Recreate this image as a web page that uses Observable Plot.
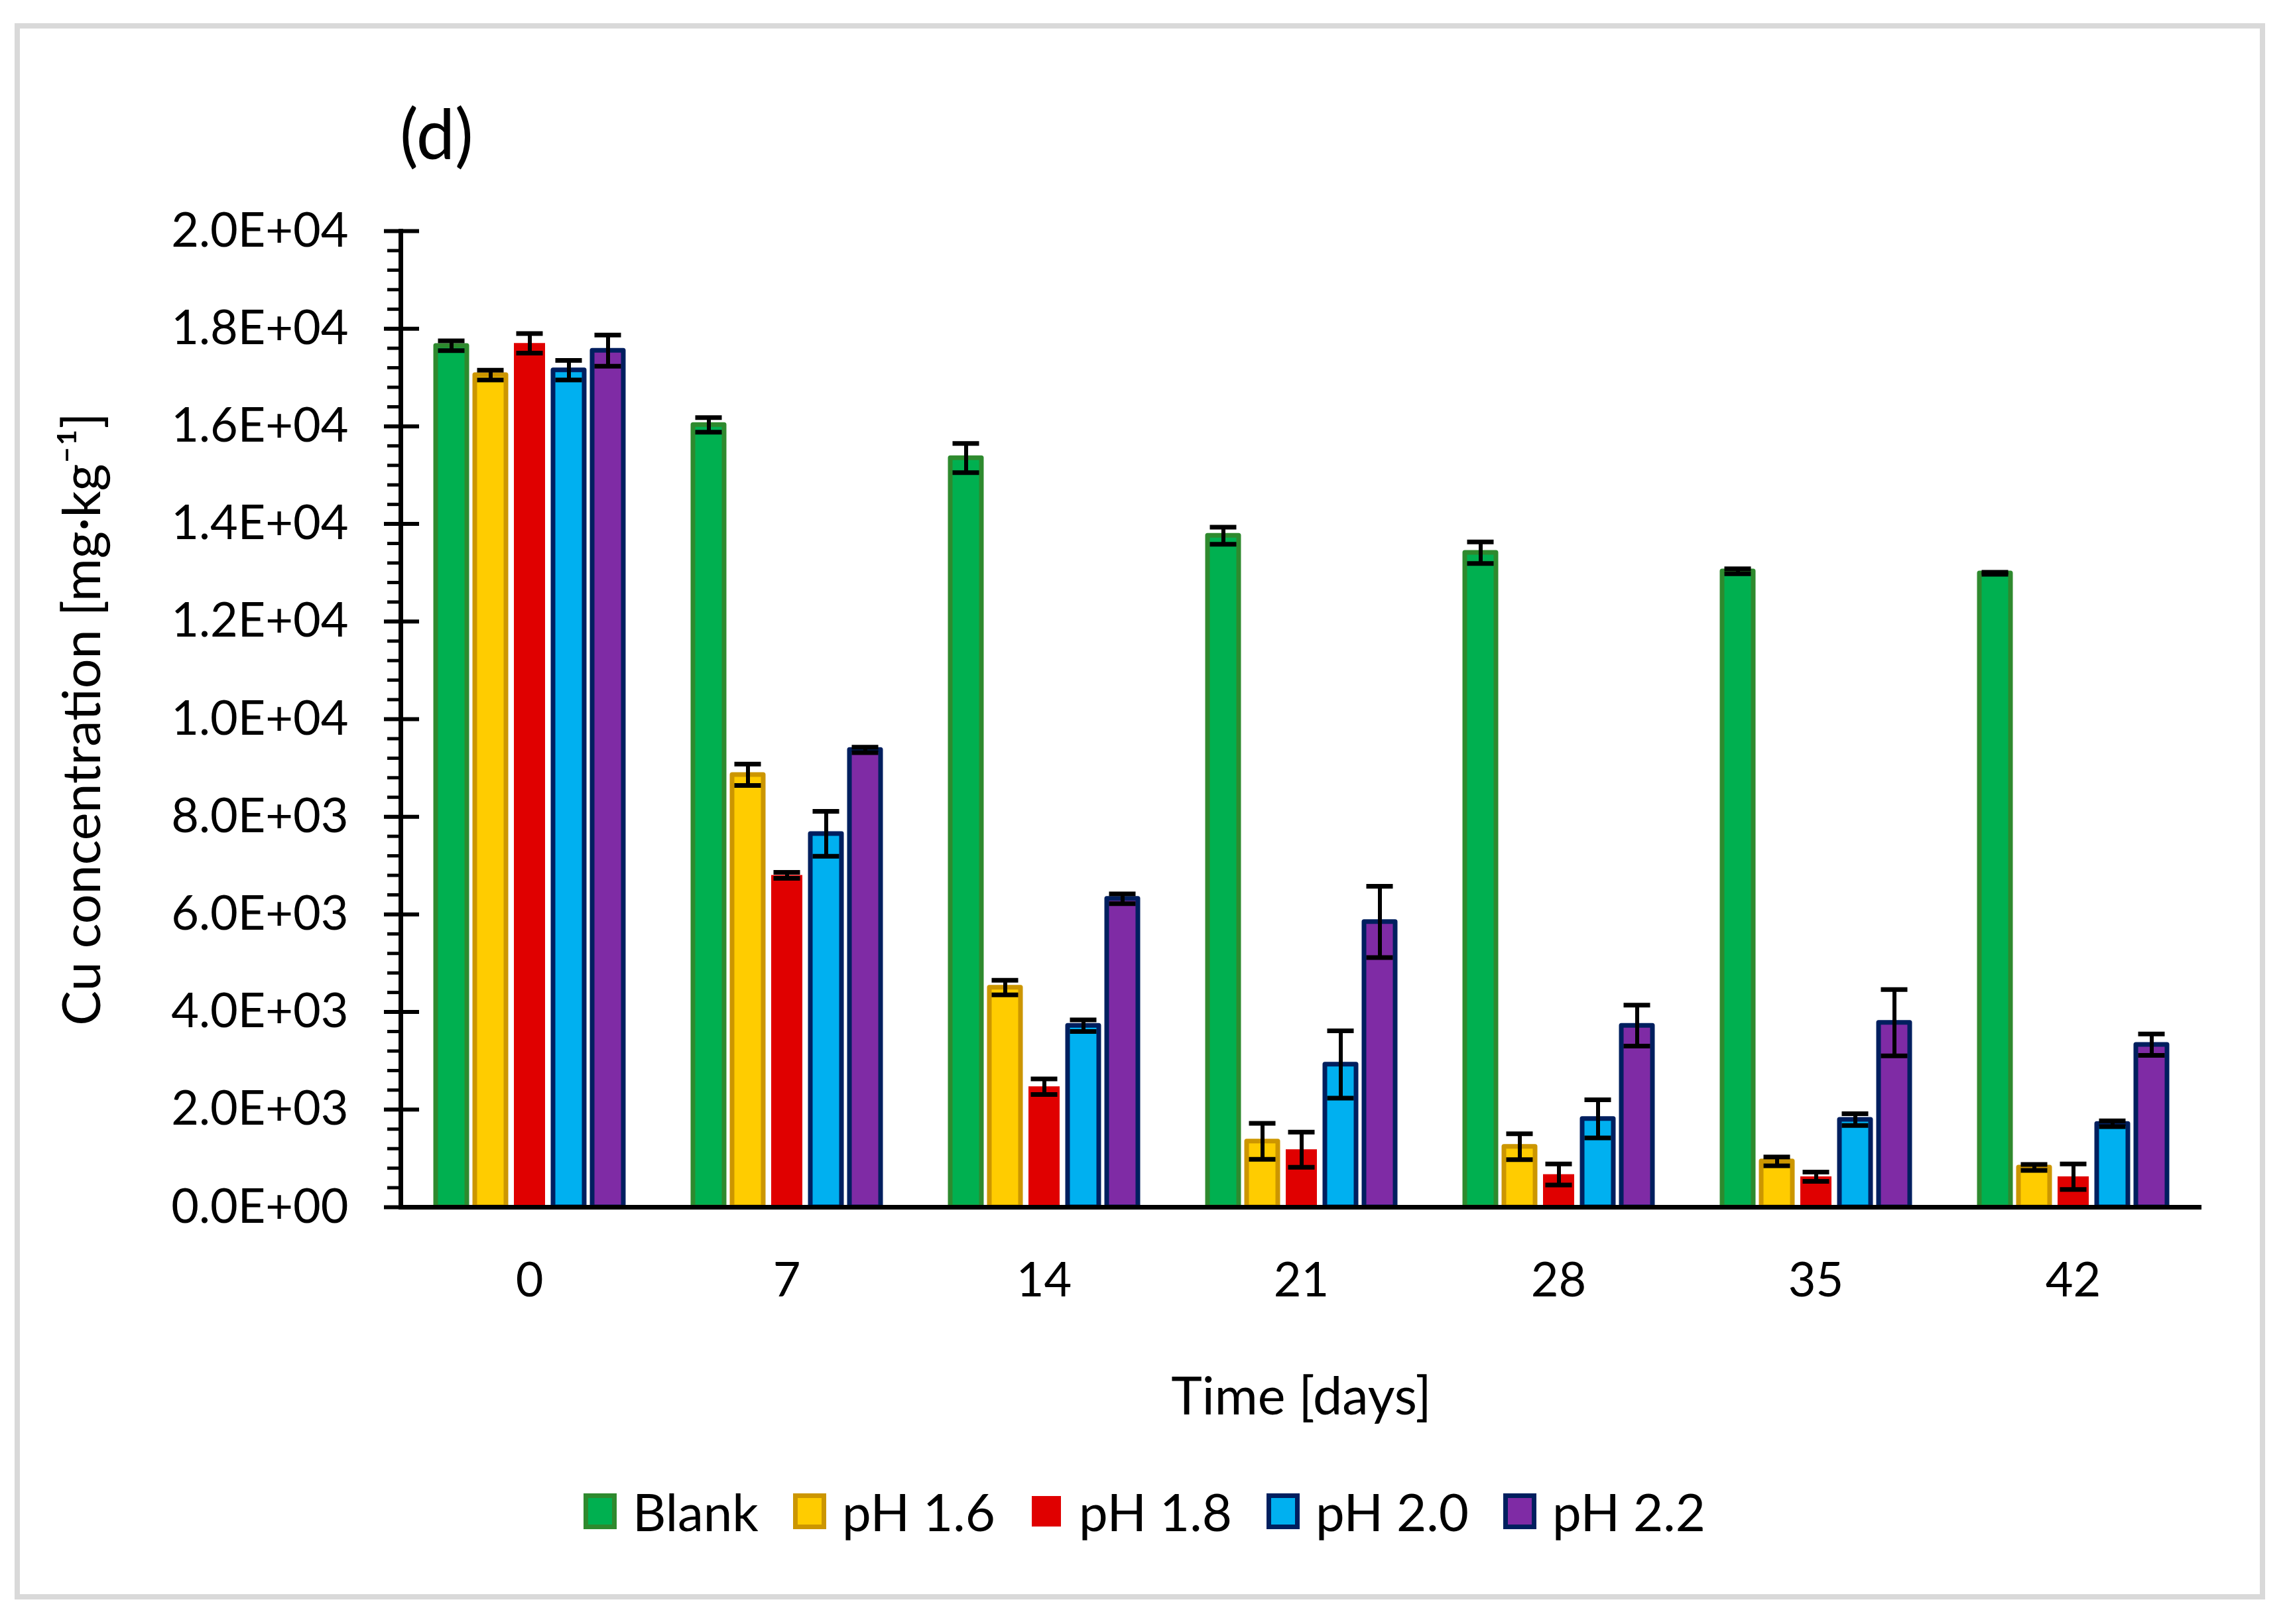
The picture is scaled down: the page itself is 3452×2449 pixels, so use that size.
<!DOCTYPE html>
<html>
<head>
<meta charset="utf-8">
<script src="https://cdn.jsdelivr.net/npm/d3@7"></script>
<script src="https://cdn.jsdelivr.net/npm/@observablehq/plot@0.6"></script>
<style>
html,body{margin:0;padding:0;background:#fff;}
#fig{position:relative;width:3452px;height:2449px;background:#fff;font-family:Lato,sans-serif;color:#000;overflow:hidden}
#border{position:absolute;left:22px;top:35px;width:3394px;height:2377px;border:8px solid #D9D9D9;box-sizing:border-box}
#chart{position:absolute;left:0;top:0}
#panel{position:absolute;left:603px;top:148px;font-size:104px;line-height:1}
#legend{position:absolute;left:0;top:2239px;width:3452px;height:80px;display:flex;justify-content:center;align-items:center;font-size:78px;line-height:1}
.item{display:flex;align-items:center;margin:0 26px}
.sw{box-sizing:border-box;width:50px;height:54px;border:7px solid;margin-right:24px}
</style>
</head>
<body>
<div id="fig">
  <div id="border"></div>
  <div id="chart"></div>
  <div id="panel">(d)</div>
  <div id="legend"></div>
</div>
<script>
// ---- data ----
const days = ["0", "7", "14", "21", "28", "35", "42"];
const series = ["Blank", "pH 1.6", "pH 1.8", "pH 2.0", "pH 2.2"];

const blank = [17650, 16030, 15350, 13760, 13410, 13030, 12990];
const ph16  = [17050, 8860, 4500, 1350, 1240, 940, 815];
const ph18  = [17700, 6800, 2470, 1180, 670, 625, 625];
const ph20  = [17150, 7650, 3720, 2925, 1810, 1795, 1710];
const ph22  = [17550, 9370, 6320, 5845, 3720, 3780, 3330];

const blankErr = [100, 150, 300, 175, 220, 50, 20];
const ph16Err  = [100, 220, 150, 370, 265, 90, 60];
const ph18Err  = [200, 60, 160, 360, 215, 95, 260];
const ph20Err  = [200, 460, 120, 690, 390, 120, 60];
const ph22Err  = [320, 55, 100, 730, 420, 680, 220];

const yTicks = [0, 2000, 4000, 6000, 8000, 10000, 12000, 14000, 16000, 18000, 20000];
const yTickLabels = ["0.0E+00", "2.0E+03", "4.0E+03", "6.0E+03", "8.0E+03", "1.0E+04",
                     "1.2E+04", "1.4E+04", "1.6E+04", "1.8E+04", "2.0E+04"];
const yMinorTicks = d3.range(0, 20001, 400);

const yLabel = "Cu concentration [mg·kg⁻¹]";
const xLabel = "Time [days]";

const fills   = {"Blank": "#00B050", "pH 1.6": "#FFCC00", "pH 1.8": "#E00000", "pH 2.0": "#00B0F0", "pH 2.2": "#7F2BA5"};
const strokes = {"Blank": "#2E8A2E", "pH 1.6": "#CC9600", "pH 1.8": null, "pH 2.0": "#001F5F", "pH 2.2": "#001F5F"};

// ---- table ----
const values = [blank, ph16, ph18, ph20, ph22];
const errors = [blankErr, ph16Err, ph18Err, ph20Err, ph22Err];
const rows = [];
days.forEach((day, i) => {
  series.forEach((s, j) => rows.push({day, series: s, value: values[j][i], err: errors[j][i]}));
});

const chart = Plot.plot({
  width: 3452,
  height: 2200,
  marginLeft: 603,
  marginRight: 131,
  marginTop: 348,
  marginBottom: 380,
  style: {fontFamily: "Lato, sans-serif", fontSize: "72px", color: "#000", background: "transparent", overflow: "visible"},
  fx: {domain: days, padding: 0},
  x: {domain: series, paddingInner: 0.21, paddingOuter: 0.866, axis: null},
  y: {domain: [0, 20000]},
  marks: [
    Plot.barY(rows, {filter: d => strokes[d.series] !== null, fx: "day", x: "series", y: "value",
      fill: d => fills[d.series], stroke: d => strokes[d.series], strokeWidth: 7, strokeLinejoin: "round"}),
    Plot.barY(rows, {filter: d => strokes[d.series] === null, fx: "day", x: "series", y: "value",
      fill: d => fills[d.series]}),
    Plot.ruleX(rows, {fx: "day", x: "series", y1: d => d.value - d.err, y2: d => d.value + d.err,
      stroke: "#000", strokeWidth: 6}),
    Plot.tickY(rows, {fx: "day", x: "series", y: d => d.value + d.err, stroke: "#000", strokeWidth: 7, inset: 3.5}),
    Plot.tickY(rows, {fx: "day", x: "series", y: d => d.value - d.err, stroke: "#000", strokeWidth: 7, inset: 3.5}),
    Plot.ruleY([0], {stroke: "#000", strokeWidth: 7}),
    Plot.frame({anchor: "left", facetAnchor: "left", stroke: "#000", strokeWidth: 7}),
    Plot.axisY({ticks: yMinorTicks, tickSize: 20, tickFormat: () => "", strokeWidth: 5, fontSize: 79,
      label: yLabel, labelAnchor: "center", labelOffset: 510, labelArrow: "none"}),
    Plot.axisY({ticks: yTicks, tickFormat: d => yTickLabels[yTicks.indexOf(d)], tickSize: 53, dx: 28,
      tickPadding: 54, strokeWidth: 6, fontSize: 72, label: null}),
    Plot.axisFx({anchor: "bottom", tickSize: 0, tickPadding: 83, fontSize: 72, label: null}),
    Plot.axisFx({anchor: "bottom", tickSize: 0, tickFormat: () => "", fontSize: 79, label: xLabel,
      labelAnchor: "center", labelOffset: 312, labelArrow: "none"})
  ]
});
document.getElementById("chart").appendChild(chart);

// ---- legend ----
const legend = document.getElementById("legend");
series.forEach(s => {
  const item = document.createElement("div");
  item.className = "item";
  const sw = document.createElement("div");
  sw.className = "sw";
  sw.style.background = fills[s];
  if (strokes[s]) {
    sw.style.borderColor = strokes[s];
  } else {
    sw.style.border = "none";
    sw.style.width = "44px";
    sw.style.height = "46px";
    sw.style.marginLeft = "3px";
    sw.style.marginRight = "27px";
  }
  const label = document.createElement("span");
  label.textContent = s;
  item.appendChild(sw);
  item.appendChild(label);
  legend.appendChild(item);
});
</script>
</body>
</html>
